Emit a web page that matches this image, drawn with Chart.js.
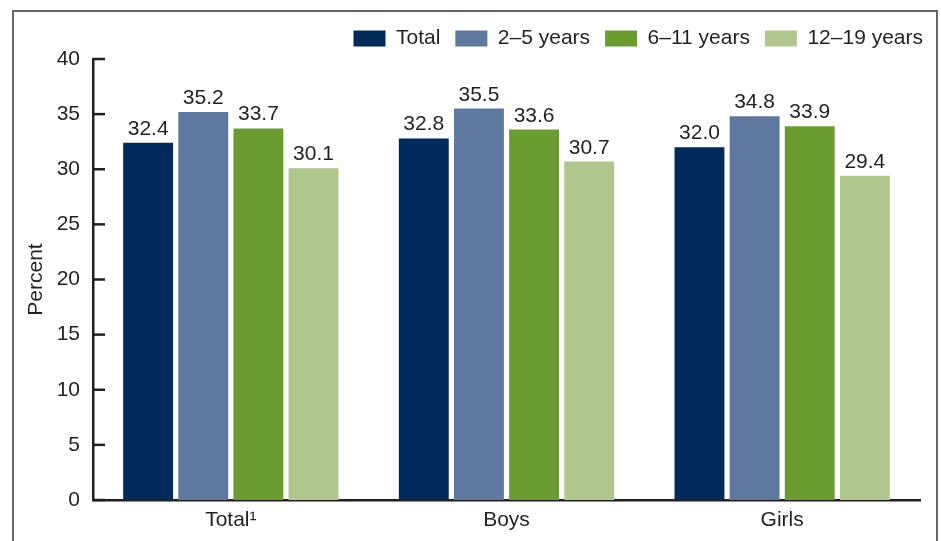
<!DOCTYPE html>
<html lang="en">
<head>
  <meta charset="UTF-8">
  <title>Percent by age group and sex</title>
  <script src="https://cdn.jsdelivr.net/npm/chart.js"></script>
  <style>
    body { margin: 0; background: #fff; overflow: hidden; font-family: "Liberation Sans", Arial, sans-serif; }
    .frame { position: absolute; left: 12px; top: 10px; width: 922px; height: 600px; border: 2px solid #666; }
    #chart { position: absolute; left: 0; top: 0; }
  </style>
</head>
<body>
  <div class="frame"></div>
  <canvas id="chart" width="941" height="541"></canvas>

  <script>
    const categories = ['Total\u00B9', 'Boys', 'Girls'];
    const seriesNames = ['Total', '2\u20135 years', '6\u201311 years', '12\u201319 years'];
    const totalValues = [32.4, 32.8, 32.0];
    const age2to5 = [35.2, 35.5, 34.8];
    const age6to11 = [33.7, 33.6, 33.9];
    const age12to19 = [30.1, 30.7, 29.4];
    const yTicks = [0, 5, 10, 15, 20, 25, 30, 35, 40];

    const colors = ['#002a5a', '#5f78a0', '#6b9c30', '#afc68c'];
    const ink = '#231f20';
    const font = { family: '"Liberation Sans", Arial, sans-serif', size: 21 };

    // tick marks point into the plot area
    const innerTicks = {
      id: 'innerTicks',
      afterDraw(chart) {
        const y = chart.scales.y;
        const ctx = chart.ctx;
        ctx.save();
        ctx.strokeStyle = ink;
        ctx.lineWidth = 2.5;
        yTicks.forEach(v => {
          const py = y.getPixelForValue(v);
          ctx.beginPath();
          ctx.moveTo(y.right, py);
          ctx.lineTo(y.right + 12, py);
          ctx.stroke();
        });
        ctx.restore();
      }
    };

    // value labels above each bar
    const barLabels = {
      id: 'barLabels',
      afterDatasetsDraw(chart) {
        const ctx = chart.ctx;
        ctx.save();
        ctx.fillStyle = ink;
        ctx.font = font.size + 'px ' + font.family;
        ctx.textAlign = 'center';
        ctx.textBaseline = 'alphabetic';
        chart.data.datasets.forEach((ds, i) => {
          chart.getDatasetMeta(i).data.forEach((bar, j) => {
            ctx.fillText(ds.data[j].toFixed(1), bar.x, bar.y - 8);
          });
        });
        ctx.restore();
      }
    };

    const allValues = [totalValues, age2to5, age6to11, age12to19];

    new Chart(document.getElementById('chart'), {
      type: 'bar',
      data: {
        labels: categories,
        datasets: seriesNames.map((name, i) => ({
          label: name,
          data: allValues[i],
          backgroundColor: colors[i],
          borderWidth: 0,
          categoryPercentage: 0.8,
          barPercentage: 0.905
        }))
      },
      options: {
        responsive: false,
        animation: false,
        devicePixelRatio: 1,
        layout: { padding: { top: 13, right: 3, bottom: 0, left: 0 } },
        plugins: {
          legend: {
            position: 'top',
            align: 'end',
            labels: {
              boxWidth: 32,
              boxHeight: 16,
              padding: 15,
              color: ink,
              font: font
            }
          },
          tooltip: { enabled: false }
        },
        scales: {
          x: {
            grid: { display: false, drawTicks: false },
            border: { display: true, color: ink, width: 2.5 },
            ticks: { color: ink, font: font, padding: 8 },
            afterFit(scale) { scale.height = 41; }
          },
          y: {
            min: 0,
            max: 40,
            grid: { display: false, drawTicks: false },
            border: { display: true, color: ink, width: 2.5 },
            ticks: { stepSize: 5, color: ink, font: font, padding: 13 },
            title: { display: true, text: 'Percent', color: ink, font: font, padding: { top: 24, bottom: 0 } },
            afterFit(scale) { scale.width = 93; }
          },
          y2: {
            position: 'right',
            display: true,
            grid: { display: false, drawTicks: false },
            border: { display: false },
            ticks: { display: false },
            afterFit(scale) { scale.width = 18; }
          }
        }
      },
      plugins: [innerTicks, barLabels]
    });
  </script>
</body>
</html>
